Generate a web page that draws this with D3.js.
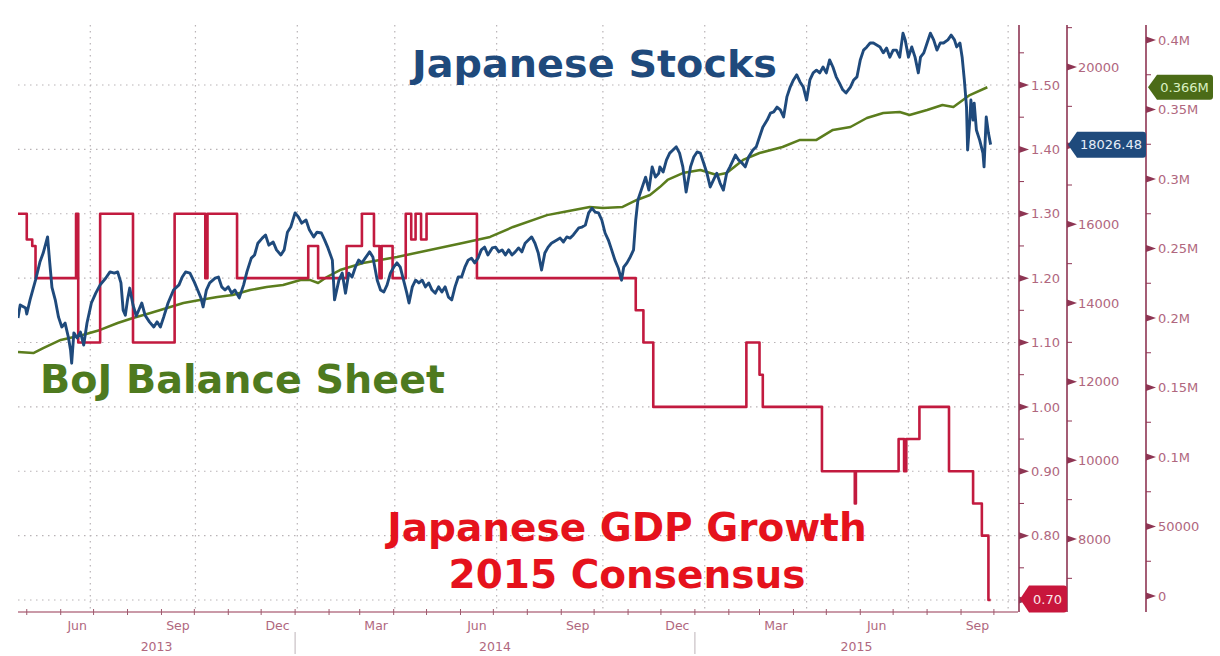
<!DOCTYPE html>
<html>
<head>
<meta charset="utf-8">
<script src="https://cdn.jsdelivr.net/npm/d3@7"></script>
<style>
  html, body { margin: 0; padding: 0; background: #ffffff; }
  svg { display: block; }
</style>
</head>
<body>
<svg id="chart" width="1220" height="656"></svg>
<script>
// ---------------- DATA ----------------
// Japanese stocks (Nikkei 225)
const stocks = [
["2013-04-23",13620],["2013-04-25",13950],["2013-04-30",13870],["2013-05-01",13720],["2013-05-04",14080],
["2013-05-09",14580],["2013-05-13",15040],["2013-05-16",15270],["2013-05-20",15680],["2013-05-22",15020],
["2013-05-24",14400],["2013-05-27",14080],["2013-05-30",13640],["2013-06-02",13390],["2013-06-05",13490],
["2013-06-08",13130],["2013-06-10",12800],["2013-06-11",12470],["2013-06-13",13240],["2013-06-16",13110],
["2013-06-19",13260],["2013-06-22",12930],["2013-06-25",13490],["2013-06-29",14000],["2013-07-03",14250],
["2013-07-07",14460],["2013-07-12",14630],["2013-07-16",14790],["2013-07-20",14760],["2013-07-23",14790],
["2013-07-26",14510],["2013-07-28",13820],["2013-07-30",13690],["2013-08-01",14080],["2013-08-03",14380],
["2013-08-06",13950],["2013-08-09",13670],["2013-08-14",14000],["2013-08-17",13690],["2013-08-21",13520],
["2013-08-25",13390],["2013-08-28",13520],["2013-08-31",13390],["2013-09-03",13640],["2013-09-07",14000],
["2013-09-12",14330],["2013-09-17",14460],["2013-09-20",14660],["2013-09-23",14790],["2013-09-27",14760],
["2013-10-01",14530],["2013-10-04",14330],["2013-10-07",14130],["2013-10-09",13900],["2013-10-12",14330],
["2013-10-15",14510],["2013-10-20",14630],["2013-10-23",14660],["2013-10-26",14410],["2013-10-29",14330],
["2013-11-01",14410],["2013-11-04",14250],["2013-11-07",14330],["2013-11-11",14130],["2013-11-15",14460],
["2013-11-18",14790],["2013-11-22",15140],["2013-11-25",15220],["2013-11-28",15520],["2013-12-02",15650],
["2013-12-05",15730],["2013-12-08",15470],["2013-12-12",15550],["2013-12-15",15350],["2013-12-19",15220],
["2013-12-22",15350],["2013-12-25",15800],["2013-12-28",15930],["2014-01-01",16290],["2014-01-04",16190],
["2014-01-07",16030],["2014-01-11",16110],["2014-01-14",15860],["2014-01-18",15680],["2014-01-21",15800],
["2014-01-25",15780],["2014-01-28",15600],["2014-01-31",15400],["2014-02-04",15090],["2014-02-06",14080],
["2014-02-10",14580],["2014-02-13",14760],["2014-02-16",14250],["2014-02-19",14760],["2014-02-22",14660],
["2014-02-25",14910],["2014-02-28",15090],["2014-03-03",15020],["2014-03-06",15140],["2014-03-10",15300],
["2014-03-13",15170],["2014-03-17",14580],["2014-03-20",14330],["2014-03-23",14280],["2014-03-26",14460],
["2014-03-29",14760],["2014-04-01",14910],["2014-04-04",15020],["2014-04-07",14910],["2014-04-10",14580],
["2014-04-13",14250],["2014-04-15",14000],["2014-04-18",14410],["2014-04-21",14580],["2014-04-24",14510],
["2014-04-27",14580],["2014-04-30",14410],["2014-05-03",14510],["2014-05-06",14330],["2014-05-09",14250],
["2014-05-12",14410],["2014-05-15",14280],["2014-05-18",14410],["2014-05-21",14150],["2014-05-24",14080],
["2014-05-27",14410],["2014-05-30",14660],["2014-06-02",14660],["2014-06-05",14910],["2014-06-08",15090],
["2014-06-11",15140],["2014-06-14",15020],["2014-06-17",15140],["2014-06-20",15350],["2014-06-23",15420],
["2014-06-26",15220],["2014-06-30",15400],["2014-07-03",15420],["2014-07-06",15300],["2014-07-09",15350],
["2014-07-12",15220],["2014-07-15",15350],["2014-07-18",15220],["2014-07-21",15300],["2014-07-24",15400],
["2014-07-27",15300],["2014-07-30",15520],["2014-08-02",15600],["2014-08-05",15680],["2014-08-08",15520],
["2014-08-11",15270],["2014-08-14",14840],["2014-08-17",15270],["2014-08-20",15420],["2014-08-23",15520],
["2014-08-28",15600],["2014-08-31",15650],["2014-09-03",15550],["2014-09-06",15680],["2014-09-09",15650],
["2014-09-12",15730],["2014-09-17",15910],["2014-09-20",15930],["2014-09-23",15980],["2014-09-26",16290],
["2014-09-29",16410],["2014-10-02",16310],["2014-10-05",16290],["2014-10-08",16110],["2014-10-11",15780],
["2014-10-14",15600],["2014-10-17",15350],["2014-10-20",15090],["2014-10-23",14890],["2014-10-26",14580],
["2014-10-28",14910],["2014-10-31",15020],["2014-11-03",15170],["2014-11-06",15350],["2014-11-08",16110],
["2014-11-10",16620],["2014-11-13",16870],["2014-11-17",17200],["2014-11-20",16870],["2014-11-23",17460],
["2014-11-26",17200],["2014-11-29",17300],["2014-11-30",17460],["2014-12-03",17330],["2014-12-06",17630],
["2014-12-09",17810],["2014-12-12",17890],["2014-12-15",17970],["2014-12-18",17810],["2014-12-21",17460],
["2014-12-24",16820],["2014-12-28",17460],["2014-12-31",17710],["2015-01-03",17840],["2015-01-06",17810],
["2015-01-09",17560],["2015-01-12",17300],["2015-01-15",16950],["2015-01-18",17130],["2015-01-21",17300],
["2015-01-24",17050],["2015-01-27",16870],["2015-01-30",17300],["2015-02-02",17460],["2015-02-07",17760],
["2015-02-10",17630],["2015-02-13",17560],["2015-02-16",17460],["2015-02-19",17710],["2015-02-23",17890],
["2015-02-26",17970],["2015-03-01",18220],["2015-03-04",18470],["2015-03-08",18650],["2015-03-11",18830],
["2015-03-14",18860],["2015-03-17",18980],["2015-03-20",18910],["2015-03-23",18730],["2015-03-26",19240],
["2015-03-29",19490],["2015-04-01",19670],["2015-04-04",19800],["2015-04-07",19620],["2015-04-10",19490],
["2015-04-13",19160],["2015-04-16",19670],["2015-04-19",19850],["2015-04-22",19920],["2015-04-25",19850],
["2015-04-28",20000],["2015-05-01",19850],["2015-05-04",20180],["2015-05-07",20000],["2015-05-10",19750],
["2015-05-13",19590],["2015-05-16",19420],["2015-05-19",19340],["2015-05-23",19490],["2015-05-26",19670],
["2015-05-29",19750],["2015-06-01",20180],["2015-06-04",20430],["2015-06-07",20510],["2015-06-10",20610],
["2015-06-13",20610],["2015-06-16",20560],["2015-06-19",20510],["2015-06-22",20360],["2015-06-25",20480],
["2015-06-28",20250],["2015-07-01",20430],["2015-07-04",20430],["2015-07-07",20250],["2015-07-10",20860],
["2015-07-12",20690],["2015-07-15",20250],["2015-07-18",20510],["2015-07-21",20250],["2015-07-24",19850],
["2015-07-26",20250],["2015-07-29",20360],["2015-08-01",20610],["2015-08-04",20860],["2015-08-07",20690],
["2015-08-10",20430],["2015-08-13",20610],["2015-08-16",20610],["2015-08-20",20690],["2015-08-23",20810],
["2015-08-26",20690],["2015-08-28",20510],["2015-08-31",20610],["2015-09-02",20250],["2015-09-04",19670],
["2015-09-06",18980],["2015-09-07",17890],["2015-09-09",18650],["2015-09-10",19160],["2015-09-12",18650],
["2015-09-13",19080],["2015-09-15",18400],["2015-09-18",18140],["2015-09-21",17810],["2015-09-22",17460],
["2015-09-24",18730],["2015-09-26",18320],["2015-09-28",18026.48]
];

// Japanese GDP growth 2015 consensus (step series, %)
const gdp = [
["2013-04-23",1.30],["2013-05-01",1.26],["2013-05-06",1.25],["2013-05-09",1.20],["2013-06-15",1.30],
["2013-06-17",1.10],["2013-07-07",1.30],["2013-08-06",1.10],["2013-09-13",1.30],["2013-10-11",1.20],
["2013-10-13",1.30],["2013-11-09",1.20],["2014-01-13",1.25],["2014-01-22",1.20],["2014-02-17",1.25],
["2014-03-03",1.30],["2014-03-14",1.25],["2014-03-19",1.20],["2014-03-21",1.25],["2014-03-31",1.20],
["2014-04-12",1.30],["2014-04-17",1.26],["2014-04-21",1.30],["2014-04-26",1.26],["2014-05-01",1.30],
["2014-06-16",1.20],["2014-11-08",1.15],["2014-11-15",1.10],["2014-11-24",1.00],["2015-02-17",1.10],
["2015-03-01",1.05],["2015-03-04",1.00],["2015-04-27",0.90],["2015-05-27",0.85],["2015-05-28",0.90],
["2015-07-06",0.95],["2015-07-11",0.90],["2015-07-13",0.95],["2015-07-25",1.00],["2015-08-21",0.90],
["2015-09-12",0.85],["2015-09-20",0.80],["2015-09-26",0.70],["2015-09-28",0.70]
];

// BoJ balance sheet (axis shown in M)
const boj = [
["2013-04-23",175500],["2013-05-07",174800],["2013-05-16",178400],["2013-06-01",184200],["2013-06-21",187800],
["2013-07-07",191400],["2013-07-23",196400],["2013-08-06",200000],["2013-08-22",203600],["2013-09-06",207200],
["2013-09-21",210800],["2013-10-06",212900],["2013-10-22",215100],["2013-11-05",216500],["2013-11-21",220100],
["2013-12-06",222300],["2013-12-21",223700],["2014-01-06",227300],["2014-01-15",227300],["2014-01-22",225200],
["2014-01-30",229500],["2014-02-11",234500],["2014-03-04",239600],["2014-04-04",243900],["2014-05-04",248900],
["2014-06-03",254000],["2014-06-28",258300],["2014-07-19",265500],["2014-08-19",274000],["2014-09-03",276200],
["2014-09-27",279900],["2014-10-09",279100],["2014-10-27",279900],["2014-11-09",284900],["2014-11-21",288500],
["2014-11-30",294200],["2014-12-07",299300],["2014-12-21",304300],["2015-01-06",306500],["2015-01-21",302900],
["2015-01-30",304300],["2015-02-14",313700],["2015-03-01",318700],["2015-03-22",323000],["2015-04-07",328100],
["2015-04-22",328100],["2015-05-07",335300],["2015-05-23",337400],["2015-06-07",343900],["2015-06-22",347500],
["2015-07-07",348200],["2015-07-16",346000],["2015-08-01",349600],["2015-08-15",353200],["2015-08-25",351800],
["2015-09-09",360400],["2015-09-25",366000]
];

// Axis ticks and labels
const xDomain = ["2013-04-23", "2015-10-23"];
const gridDates = ["2013-06-28","2013-10-02","2014-01-03","2014-04-02","2014-07-04","2014-10-09",
                   "2015-01-10","2015-04-13","2015-07-15","2015-10-14"];
const years = [2013, 2014, 2015];
const gdpTicks = [0.70, 0.80, 0.90, 1.00, 1.10, 1.20, 1.30, 1.40, 1.50];
const gdpMinor = [0.75, 0.85, 0.95, 1.05, 1.15, 1.25, 1.35, 1.45, 1.55];
const stockTicks = [8000, 10000, 12000, 14000, 16000, 18000, 20000];
const stockMinor = [7000, 9000, 11000, 13000, 15000, 17000, 19000, 21000];
const bojTicks = [0, 50000, 100000, 150000, 200000, 250000, 300000, 350000, 400000];
const bojTickLabels = ["0", "50000", "0.1M", "0.15M", "0.2M", "0.25M", "0.3M", "0.35M", "0.4M"];
const bojMinor = [25000, 75000, 125000, 175000, 225000, 275000, 325000, 375000];

const lastStockLabel = "18026.48";
const lastBojLabel = "0.366M";
const lastGdpLabel = "0.70";

// ---------------- CHART ----------------
const parse = d3.utcParse("%Y-%m-%d");
const svg = d3.select("#chart");

const plot = { left: 18, right: 1018, top: 25, bottom: 612 };
const axGdpX = 1019, axStockX = 1067, axBojX = 1146;

const x = d3.scaleUtc().domain(xDomain.map(parse)).range([plot.left, plot.right]);
const yGdp = d3.scaleLinear().domain([0.70, 1.50]).range([600, 85]);
const yStock = d3.scaleLinear().domain([8000, 20000]).range([539, 67]);
const yBoj = d3.scaleLinear().domain([0, 400000]).range([596, 40]);

const axisColor = "#8e3553";
const labelColor = "#b0677e";
const gridColor = "#b9b3b6";
const fontAxis = "'DejaVu Sans', Verdana, sans-serif";

svg.append("rect").attr("width", 1220).attr("height", 656).attr("fill", "#ffffff");

// Grid
const grid = svg.append("g");
grid.selectAll("line.h").data(gdpTicks).join("line")
  .attr("x1", plot.left).attr("x2", plot.right)
  .attr("y1", d => yGdp(d)).attr("y2", d => yGdp(d))
  .attr("stroke", gridColor).attr("stroke-width", 1.2).attr("stroke-dasharray", "1.5,4.5");
grid.selectAll("line.v").data(gridDates.map(parse)).join("line")
  .attr("x1", d => x(d)).attr("x2", d => x(d))
  .attr("y1", plot.top).attr("y2", plot.bottom)
  .attr("stroke", gridColor).attr("stroke-width", 1.2).attr("stroke-dasharray", "1.5,4.5");

// Clip
svg.append("clipPath").attr("id", "clip").append("rect")
  .attr("x", plot.left).attr("y", plot.top)
  .attr("width", plot.right - plot.left).attr("height", plot.bottom - plot.top);

const data = svg.append("g").attr("clip-path", "url(#clip)");

const bojLine = d3.line().x(d => x(parse(d[0]))).y(d => yBoj(d[1]));
const stockLine = d3.line().x(d => x(parse(d[0]))).y(d => yStock(d[1]));
const gdpLine = d3.line().x(d => x(parse(d[0]))).y(d => yGdp(d[1])).curve(d3.curveStepAfter);

data.append("path").datum(boj).attr("d", bojLine)
  .attr("fill", "none").attr("stroke", "#5b7d1d").attr("stroke-width", 2.5).attr("stroke-linejoin", "round");
data.append("path").datum(gdp).attr("d", gdpLine)
  .attr("fill", "none").attr("stroke", "#c21a3f").attr("stroke-width", 2.6).attr("stroke-linejoin", "round");
data.append("path").datum(stocks).attr("d", stockLine)
  .attr("fill", "none").attr("stroke", "#1f4a7c").attr("stroke-width", 2.9).attr("stroke-linejoin", "round");

// X axis
const xa = svg.append("g");
xa.append("line").attr("x1", plot.left).attr("x2", plot.right)
  .attr("y1", plot.bottom).attr("y2", plot.bottom)
  .attr("stroke", "#b9788b").attr("stroke-width", 1.3);
const months = d3.utcMonth.range(x.domain()[0], x.domain()[1]);
xa.selectAll("line.mt").data(months).join("line")
  .attr("x1", d => x(d)).attr("x2", d => x(d))
  .attr("y1", plot.bottom - 3).attr("y2", plot.bottom + 3)
  .attr("stroke", "#9e5a6e").attr("stroke-width", 1);
const quarterMonths = months.filter(d => d.getUTCMonth() % 3 === 2);
const fmtMonth = d3.utcFormat("%b");
xa.selectAll("text.ml").data(quarterMonths).join("text")
  .attr("x", d => x(d3.utcDay.offset(d, 15))).attr("y", 630)
  .attr("text-anchor", "middle").attr("font-family", fontAxis).attr("font-size", 12.5)
  .attr("fill", labelColor).text(d => fmtMonth(d));
const yearStarts = years.slice(1).map(y => new Date(Date.UTC(y, 0, 1)));
xa.selectAll("line.ys").data(yearStarts).join("line")
  .attr("x1", d => x(d)).attr("x2", d => x(d))
  .attr("y1", 632).attr("y2", 654)
  .attr("stroke", "#c8c0c4").attr("stroke-width", 1.2);
xa.selectAll("text.yl").data(years).join("text")
  .attr("x", y => {
    const a = Math.max(x(new Date(Date.UTC(y, 0, 1))), plot.left);
    const b = Math.min(x(new Date(Date.UTC(y + 1, 0, 1))), plot.right);
    return (a + b) / 2;
  })
  .attr("y", 651).attr("text-anchor", "middle").attr("font-family", fontAxis).attr("font-size", 12.5)
  .attr("fill", labelColor).text(d => d);

// Y axes (labels hidden where the last-value badge sits on top of them)
function yAxis(ax, scale, ticks, labels, minor, labelX, hidden) {
  const g = svg.append("g");
  g.append("line").attr("x1", ax).attr("x2", ax).attr("y1", plot.top).attr("y2", plot.bottom)
    .attr("stroke", axisColor).attr("stroke-width", 1.6);
  g.selectAll("line.mn").data(minor).join("line")
    .attr("x1", ax).attr("x2", ax + 5)
    .attr("y1", d => scale(d)).attr("y2", d => scale(d))
    .attr("stroke", axisColor).attr("stroke-width", 1);
  g.selectAll("path.tk").data(ticks).join("path")
    .attr("d", d => `M${ax},${scale(d) - 3.5}L${ax + 10},${scale(d)}L${ax},${scale(d) + 3.5}Z`)
    .attr("fill", axisColor);
  const shown = ticks.map((d, i) => ({ v: d, label: labels[i] })).filter(o => !hidden.includes(o.v));
  g.selectAll("text").data(shown).join("text")
    .attr("x", labelX).attr("y", d => scale(d.v)).attr("dy", "0.36em")
    .attr("font-family", fontAxis).attr("font-size", 13).attr("fill", labelColor)
    .text(d => d.label);
}
yAxis(axGdpX, yGdp, gdpTicks, gdpTicks.map(d => d.toFixed(2)), gdpMinor, 1031, [0.70]);
yAxis(axStockX, yStock, stockTicks, stockTicks.map(d => String(d)), stockMinor, 1078, [18000]);
yAxis(axBojX, yBoj, bojTicks, bojTickLabels, bojMinor, 1158, []);

// Last-value badges
function badge(x0, x1, yc, h, fill, txt, txtFill) {
  const g = svg.append("g");
  const t = yc - h / 2, b = yc + h / 2, r = 3;
  g.append("path")
    .attr("d", `M${x0},${yc}L${x0 + 9},${t}L${x1 - r},${t}Q${x1},${t} ${x1},${t + r}L${x1},${b - r}Q${x1},${b} ${x1 - r},${b}L${x0 + 9},${b}Z`)
    .attr("fill", fill);
  g.append("text").attr("x", (x0 + 8 + x1) / 2).attr("y", yc).attr("dy", "0.36em")
    .attr("text-anchor", "middle").attr("font-family", fontAxis).attr("font-size", 13)
    .attr("fill", txtFill).text(txt);
}
const lastStock = stocks[stocks.length - 1][1];
const lastBoj = boj[boj.length - 1][1];
const lastGdp = gdp[gdp.length - 1][1];
badge(axStockX + 1, axBojX, yStock(lastStock), 26, "#1f4a7c", lastStockLabel, "#e6eef8");
badge(axBojX + 2, 1213, yBoj(lastBoj), 25, "#4b6b17", lastBojLabel, "#dcf2c4");
badge(axGdpX + 1, axStockX, yGdp(lastGdp) - 1, 27, "#c8163c", lastGdpLabel, "#fbe7ea");

// Annotations
const fontTitle = "'DejaVu Sans', Verdana, sans-serif";
svg.append("text").attr("x", 412).attr("y", 77)
  .attr("font-family", fontTitle).attr("font-weight", "bold").attr("font-size", 38)
  .attr("textLength", 365).attr("lengthAdjust", "spacingAndGlyphs")
  .attr("fill", "#1f4a7c").text("Japanese Stocks");
svg.append("text").attr("x", 40).attr("y", 393)
  .attr("font-family", fontTitle).attr("font-weight", "bold").attr("font-size", 39)
  .attr("textLength", 405).attr("lengthAdjust", "spacingAndGlyphs")
  .attr("fill", "#4e7a1f").text("BoJ Balance Sheet");
const red = svg.append("text").attr("font-family", fontTitle).attr("font-weight", "bold")
  .attr("font-size", 39).attr("fill", "#e5121c").attr("text-anchor", "middle");
red.append("tspan").attr("x", 627).attr("y", 541).text("Japanese GDP Growth");
red.append("tspan").attr("x", 627).attr("y", 588).text("2015 Consensus");
</script>
</body>
</html>
